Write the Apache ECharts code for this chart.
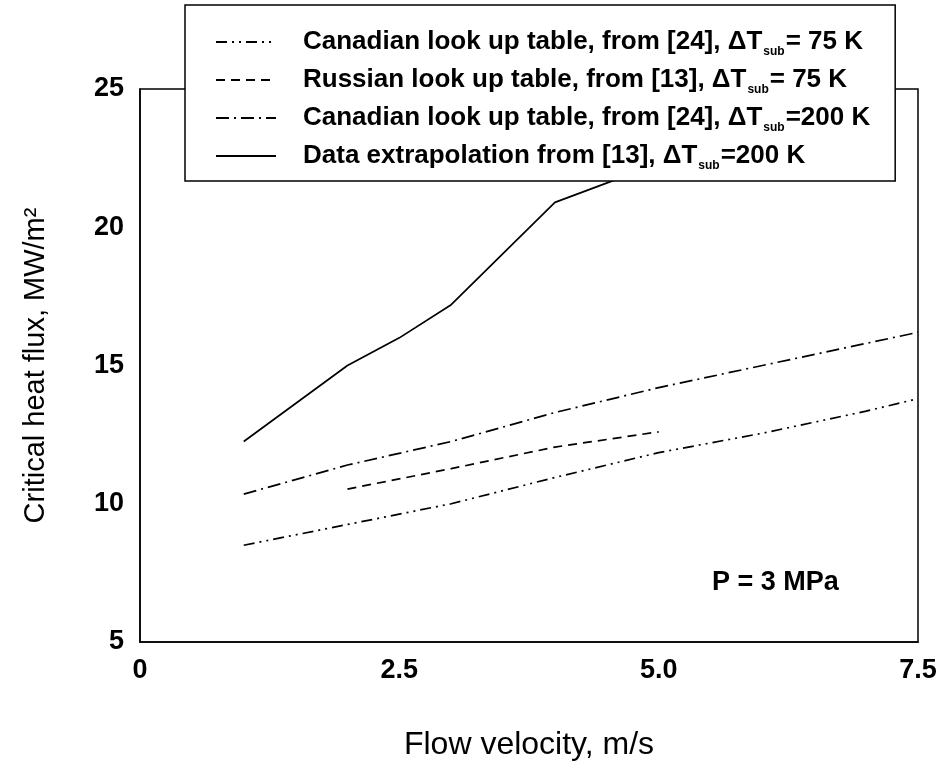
<!DOCTYPE html>
<html>
<head>
<meta charset="utf-8">
<script src="https://cdn.jsdelivr.net/npm/echarts@6/dist/echarts.min.js"></script>
<style>
  html, body { margin: 0; padding: 0; background: #fff; }
  #chart { width: 945px; height: 770px; }
</style>
</head>
<body>
<div id="chart"></div>
<script>
// Critical heat flux vs. flow velocity at P = 3 MPa
const xTickLabels = ['0', '2.5', '5.0', '7.5'];

const canadian75X = [1, 2, 3, 4, 5, 6, 7, 7.5];
const canadian75Y = [8.5, 9.25, 10.0, 10.95, 11.85, 12.55, 13.35, 13.8];

const russian75X = [2, 3, 4, 5];
const russian75Y = [10.53, 11.27, 12.05, 12.6];

const canadian200X = [1, 2, 3, 4, 5, 6, 7, 7.5];
const canadian200Y = [10.35, 11.4, 12.25, 13.3, 14.2, 15.0, 15.8, 16.2];

const extrap200X = [1, 2, 2.5, 3, 4, 5];
const extrap200Y = [12.25, 15.0, 16.0, 17.2, 20.9, 22.3];

const seriesNames = [
  'Canadian look up table, from [24], ΔT{s|sub}= 75 K',
  'Russian look up table, from [13], ΔT{s|sub}= 75 K',
  'Canadian look up table, from [24], ΔT{s|sub}=200 K',
  'Data extrapolation from [13], ΔT{s|sub}=200 K'
];

function pairs(xs, ys) { return xs.map((x, i) => [x, ys[i]]); }

const FONT = '"Liberation Sans", Arial, sans-serif';

const chart = echarts.init(document.getElementById('chart'), null, { renderer: 'canvas' });

function lineSeries(name, xs, ys, dash) {
  return {
    name: name,
    type: 'line',
    data: pairs(xs, ys),
    symbol: 'none',
    smooth: false,
    lineStyle: { color: '#000', width: 1.7, type: dash },
    itemStyle: { color: '#000' },
    z: 2
  };
}

chart.setOption({
  animation: false,
  backgroundColor: '#fff',
  grid: {
    left: 140, right: 27, top: 89, bottom: 128,
    outerBoundsMode: 'none',
    containLabel: false,
    show: true, borderColor: '#000', borderWidth: 1.5, backgroundColor: 'transparent'
  },
  xAxis: {
    type: 'value', min: 0, max: 7.5, interval: 2.5,
    axisLine: { show: true, lineStyle: { color: '#000', width: 1.5 } },
    axisTick: { show: false },
    splitLine: { show: false },
    axisLabel: {
      margin: 15, color: '#000', fontFamily: FONT, fontWeight: 'bold', fontSize: 27,
      formatter: (v) => xTickLabels[Math.round(v / 2.5)]
    },
    name: 'Flow velocity, m/s', nameLocation: 'middle', nameGap: 87,
    nameTextStyle: { color: '#000', fontFamily: FONT, fontSize: 32 }
  },
  yAxis: {
    type: 'value', min: 5, max: 25, interval: 5,
    axisLine: { show: true, lineStyle: { color: '#000', width: 1.5 } },
    axisTick: { show: false },
    splitLine: { show: false },
    axisLabel: { margin: 16, color: '#000', fontFamily: FONT, fontWeight: 'bold', fontSize: 27 },
    name: 'Critical heat flux, MW/m²', nameLocation: 'middle', nameGap: 90,
    nameTextStyle: { color: '#000', fontFamily: FONT, fontSize: 29 }
  },
  legend: {
    orient: 'vertical', left: 185, top: 5,
    backgroundColor: '#fff', borderColor: '#000', borderWidth: 1.5,
    padding: [24, 25, 9, 30],
    itemWidth: 60, itemHeight: 14, itemGap: 9,
    selectedMode: false,
    z: 10,
    itemStyle: { color: 'transparent', borderWidth: 0, opacity: 0 },
    textStyle: {
      color: '#000', fontFamily: FONT, fontWeight: 'bold', fontSize: 26,
      padding: [0, 0, 0, 22],
      rich: {
        s: { fontFamily: FONT, fontWeight: 'bold', fontSize: 12, padding: [20, 1, 0, 1], color: '#000' }
      }
    },
    data: seriesNames
  },
  graphic: [{
    type: 'text', left: 712, top: 569, z: 5,
    style: { text: 'P = 3 MPa', fill: '#000', font: 'bold 27px ' + FONT }
  }],
  series: [
    lineSeries(seriesNames[0], canadian75X, canadian75Y, [11, 5, 2, 5, 2, 5]),
    lineSeries(seriesNames[1], russian75X, russian75Y, [9, 6]),
    lineSeries(seriesNames[2], canadian200X, canadian200Y, [13, 5, 2, 5]),
    lineSeries(seriesNames[3], extrap200X, extrap200Y, 'solid')
  ]
});
</script>
</body>
</html>
